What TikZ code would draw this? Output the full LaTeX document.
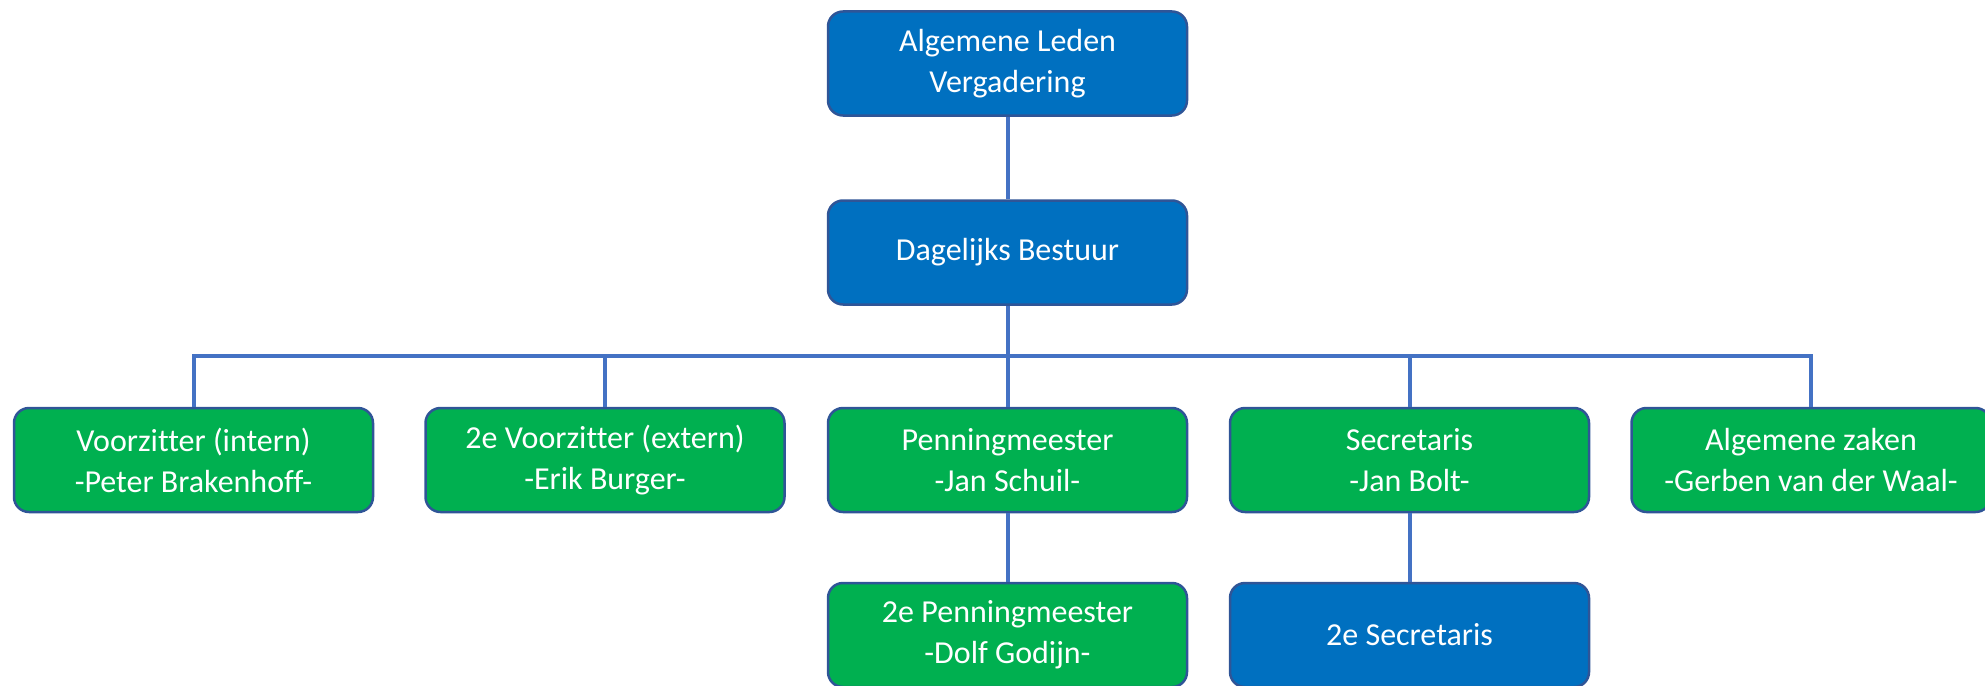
\documentclass[tikz,border=0pt]{standalone}
\usepackage{fontspec}
\setmainfont{Carlito}[Ligatures=NoCommon]
\definecolor{boxblue}{HTML}{0070C0}
\definecolor{boxgreen}{HTML}{00B050}
\definecolor{rimblue}{HTML}{2F5597}
\definecolor{linkblue}{HTML}{4472C4}

\begin{document}
\begin{tikzpicture}[x=1pt,y=-1pt,
  box/.style={draw=rimblue,line width=2.5pt,rounded corners=15pt,
    minimum width=359pt,minimum height=104pt,inner sep=0pt,
    text=white,align=center,font=\fontsize{32}{41}\selectfont},
  bluebox/.style={box,fill=boxblue},
  greenbox/.style={box,fill=boxgreen},
  link/.style={draw=linkblue,line width=4pt}]
\useasboundingbox (0,0) rectangle (1985,685);

% top two levels
\node[bluebox] (alv) at (1007.5,63.5) {Algemene Leden\\Vergadering};
\node[bluebox] (db) at (1007.5,252.5) {Dagelijks Bestuur};

% board members
\node[greenbox] (vz)  at (193.5,460) {Voorzitter (intern)\\-Peter Brakenhoff-};
\node[greenbox] (vz2) at (605,460) {2e Voorzitter (extern)\\-Erik Burger-};
\node[greenbox] (pm)  at (1007.5,460) {Penningmeester\\-Jan Schuil-};
\node[greenbox] (sec) at (1409.5,460) {Secretaris\\-Jan Bolt-};
\node[greenbox] (az)  at (1811,460) {Algemene zaken\\-Gerben van der Waal-};

% deputies
\node[greenbox] (pm2)  at (1007.5,635) {2e Penningmeester\\-Dolf Godijn-};
\node[bluebox]  (sec2) at (1409.5,635) {2e Secretaris};

\coordinate (bus) at (1007.5,356);

\draw[link] (alv.south) -- (db.north);
\foreach \n in {vz,vz2,pm,sec,az}{
  \draw[link] (db.south) -- (bus) -| (\n.north);
};
\draw[link] (pm.south) -- (pm2.north);
\draw[link] (sec.south) -- (sec2.north);

\end{tikzpicture}
\end{document}
